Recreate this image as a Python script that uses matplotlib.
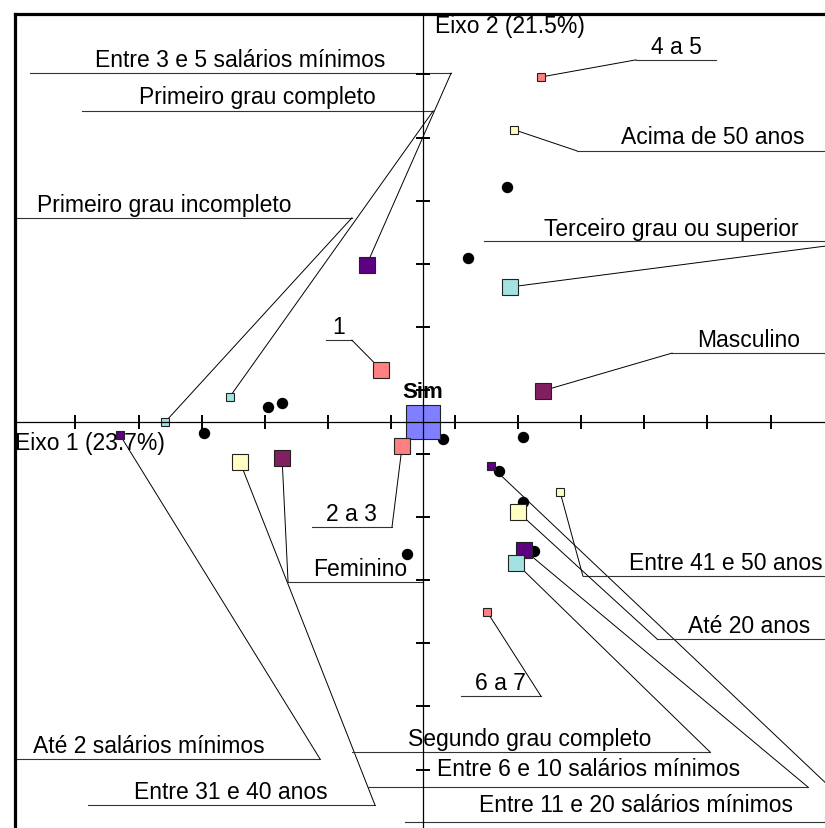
import matplotlib
matplotlib.use('Agg')
import matplotlib.pyplot as plt

plt.rcParams['font.family'] = ['Liberation Sans', 'DejaVu Sans']

# Coordenadas das categorias nos eixos 1 e 2
categorias = [
    '4 a 5', 'Acima de 50 anos', 'Terceiro grau ou superior',
    'Entre 3 e 5 salários mínimos', '1', 'Masculino', 'Sim',
    'Primeiro grau completo', 'Primeiro grau incompleto',
    'Até 2 salários mínimos', 'Entre 31 e 40 anos', 'Feminino', '2 a 3',
    'Entre 11 e 20 salários mínimos', 'Entre 41 e 50 anos', 'Até 20 anos',
    'Entre 6 e 10 salários mínimos', 'Segundo grau completo', '6 a 7',
]
eixo1 = [0.375, 0.288, 0.274, -0.178, -0.133, 0.380, 0.000,
         -0.611, -0.816, -0.959, -0.579, -0.446, -0.066,
         0.215, 0.434, 0.301, 0.320, 0.294, 0.203]
eixo2 = [1.092, 0.925, 0.427, 0.498, 0.166, 0.099, 0.000,
         0.080, 0.000, -0.041, -0.127, -0.114, -0.076,
         -0.139, -0.222, -0.285, -0.405, -0.446, -0.601]
grupo = ['numero', 'idade', 'escolaridade', 'renda', 'numero', 'sexo',
         'resposta', 'escolaridade', 'escolaridade', 'renda', 'idade',
         'sexo', 'numero', 'renda', 'idade', 'idade', 'renda',
         'escolaridade', 'numero']

# Pontos suplementares (sem rótulo)
sup_x = [0.266, 0.142, -0.491, -0.446, -0.693, 0.063, 0.316,
         0.241, 0.316, 0.351, -0.051]
sup_y = [0.744, 0.519, 0.047, 0.060, -0.035, -0.054, -0.047,
         -0.155, -0.253, -0.408, -0.418]

marcas = [-1.1, -0.9, -0.7, -0.5, -0.3, -0.1, 0.1, 0.3, 0.5, 0.7, 0.9, 1.1]
rotulo_x = 'Eixo 1 (23.7%)'
rotulo_y = 'Eixo 2 (21.5%)'

cores = {
    'numero': '#ff8080',
    'idade': '#ffffc4',
    'escolaridade': '#a2e2e2',
    'renda': '#5e0082',
    'sexo': '#821f60',
    'resposta': '#7f7fff',
}
# lado do quadrado em pontos
tamanho = {c: 12.2 for c in categorias}
for c in ['4 a 5', 'Acima de 50 anos', 'Primeiro grau completo',
          'Primeiro grau incompleto', 'Até 2 salários mínimos',
          'Entre 11 e 20 salários mínimos', 'Entre 41 e 50 anos', '6 a 7']:
    tamanho[c] = 6.3
tamanho['Sim'] = 24.0

# texto (x, y), linha de base (x0, x1, y) e lado onde a guia encontra a linha
rotulos = {
    'Entre 3 e 5 salários mínimos': (-0.579, 1.127, -1.244, 0.089, 1.104, 1),
    'Primeiro grau completo': (-0.525, 1.009, -1.079, 0.032, 0.984, 1),
    'Primeiro grau incompleto': (-0.820, 0.668, -1.35, -0.225, 0.646, 1),
    '1': (-0.266, 0.282, -0.307, -0.225, 0.259, 1),
    '4 a 5': (0.801, 1.168, 0.674, 0.927, 1.146, 0),
    'Acima de 50 anos': (0.918, 0.883, 0.487, 1.35, 0.858, 0),
    'Terceiro grau ou superior': (0.786, 0.592, 0.193, 1.399, 0.573, 1),
    'Masculino': (1.032, 0.241, 0.788, 1.35, 0.218, 0),
    'Até 2 salários mínimos': (-0.867, -1.044, -1.35, -0.326, -1.066, 1),
    'Entre 31 e 40 anos': (-0.608, -1.190, -1.060, -0.152, -1.212, 1),
    'Feminino': (-0.199, -0.484, -0.427, 0.0, -0.506, 0),
    '2 a 3': (-0.225, -0.310, -0.351, -0.098, -0.332, 1),
    'Segundo grau completo': (0.339, -1.022, -0.225, 0.908, -1.044, 1),
    'Entre 6 e 10 salários mínimos': (0.525, -1.117, -0.174, 1.218, -1.155, 1),
    'Entre 11 e 20 salários mínimos': (0.674, -1.231, -0.057, 1.405, -1.266, 1),
    '6 a 7': (0.244, -0.845, 0.120, 0.373, -0.867, 1),
    'Entre 41 e 50 anos': (0.959, -0.465, 0.506, 1.35, -0.487, 0),
    'Até 20 anos': (1.032, -0.665, 0.741, 1.35, -0.687, 0),
}

fig = plt.figure(figsize=(8.25, 8.29), dpi=100)
ax = fig.add_axes([15 / 825, 0, 810 / 825, 814 / 829])
ax.set_xlim(-1.2911, 1.2722)
ax.set_ylim(-1.2848, 1.2911)
ax.set_xticks([])
ax.set_yticks([])
for lado in ['right', 'bottom']:
    ax.spines[lado].set_visible(False)
for lado in ['top', 'left']:
    ax.spines[lado].set_linewidth(2.3)
    ax.spines[lado].set_zorder(10)

# eixos centrais com marcas
ax.axhline(0, color='black', lw=0.9, zorder=6)
ax.axvline(0, color='black', lw=0.9, zorder=6)
ax.plot(marcas, [0] * len(marcas), ls='none', marker='|', ms=10,
        mew=1.4, color='black', zorder=6)
ax.plot([0] * len(marcas), marcas, ls='none', marker='_', ms=10,
        mew=1.4, color='black', zorder=6)

# pontos suplementares
ax.plot(sup_x, sup_y, ls='none', marker='o', ms=7.2, color='black',
        zorder=3)

# categorias
for nome, x, y, g in zip(categorias, eixo1, eixo2, grupo):
    ax.plot(x, y, ls='none', marker='s', ms=tamanho[nome],
            mfc=cores[g], mec='#222222', mew=0.8, zorder=4)

# rótulos com linha guia
for nome, x, y in zip(categorias, eixo1, eixo2):
    if nome not in rotulos:
        continue
    tx, ty, x0, x1, yl, lado = rotulos[nome]
    xe = x1 if lado == 1 else x0
    ax.plot([x0, x1], [yl, yl], color='#333333', lw=0.8, zorder=2)
    ax.plot([x, xe], [y, yl], color='black', lw=0.7, zorder=2)
    ax.text(tx, ty, nome, fontsize=16.5, ha='center', va='baseline',
            zorder=7)

ax.text(0.0, 0.079, 'Sim', fontsize=16, fontweight='bold', ha='center',
        va='baseline', zorder=7)
ax.text(0.038, 1.234, rotulo_y, fontsize=16.5, ha='left', va='baseline')
ax.text(-1.291, -0.085, rotulo_x, fontsize=16.5, ha='left', va='baseline')

fig.savefig('out.png', dpi=100)
plt.close(fig)
